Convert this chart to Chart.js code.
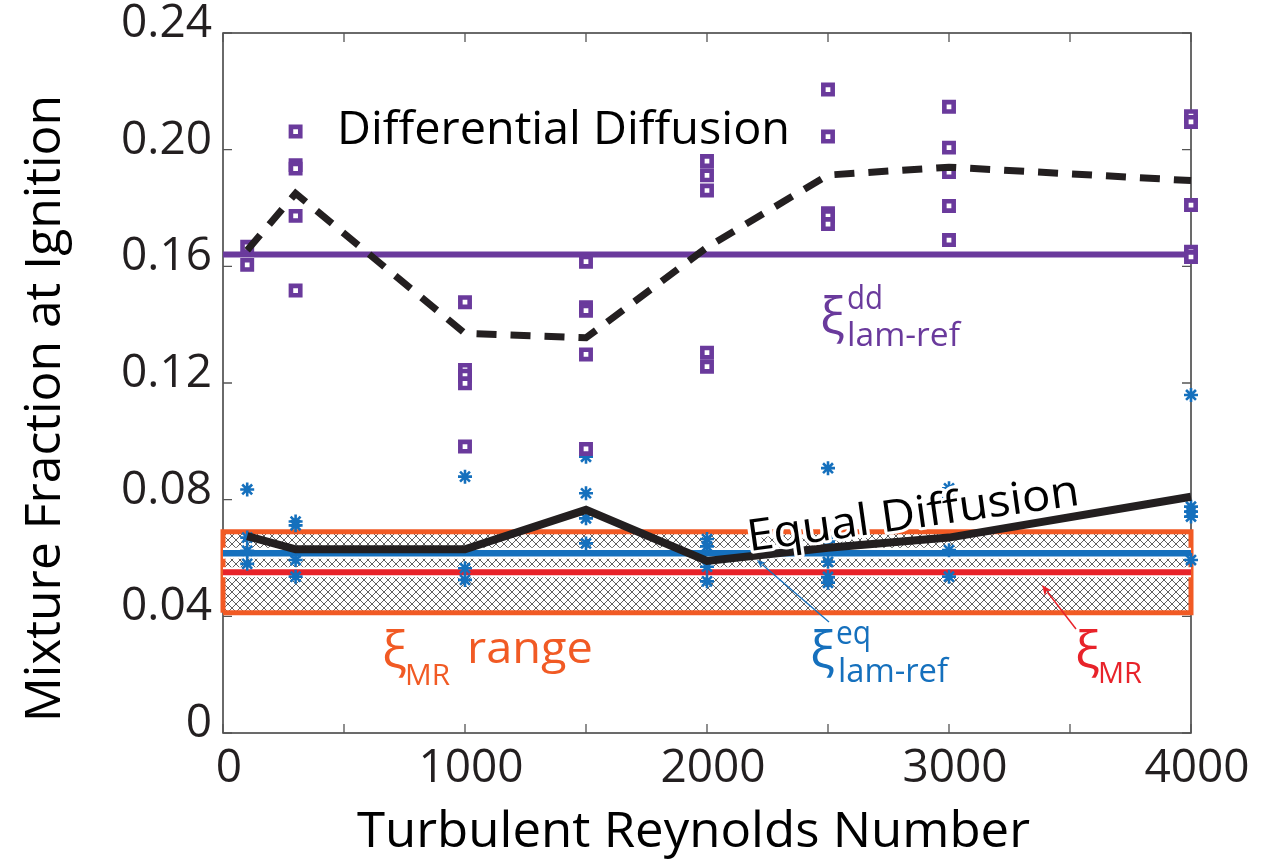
<!DOCTYPE html>
<html>
<head>
<meta charset="utf-8">
<script src="https://cdn.jsdelivr.net/npm/chart.js@4.4.1/dist/chart.umd.min.js"></script>
<style>
html,body{margin:0;padding:0;background:#fff;}
#wrap{width:1267px;height:862px;position:relative;}
</style>
</head>
<body>
<div id="wrap"><canvas id="c" width="1267" height="862"></canvas></div>
<script>
// ---------------- data ----------------
const reynolds = [100, 300, 1000, 1500, 2000, 2500, 3000, 4000];
const ddMean = [0.1655, 0.185, 0.137, 0.1355, 0.1665, 0.1913, 0.194, 0.1894];
const eqMean = [0.0675, 0.063, 0.063, 0.0765, 0.059, 0.0635, 0.067, 0.081];
const ddRuns = [
  [0.1667, 0.1605],
  [0.2062, 0.1947, 0.1935, 0.1773, 0.1517],
  [0.1477, 0.1245, 0.1225, 0.1199, 0.0982],
  [0.1616, 0.146, 0.1448, 0.1298, 0.0974],
  [0.1961, 0.1912, 0.186, 0.1304, 0.1256],
  [0.2206, 0.2045, 0.1782, 0.1772, 0.1745],
  [0.2147, 0.2007, 0.1923, 0.1807, 0.169],
  [0.2115, 0.2095, 0.181, 0.165, 0.1632]
];
const eqRuns = [
  [0.0835, 0.067, 0.0625, 0.058],
  [0.0725, 0.0712, 0.0618, 0.0593, 0.0536],
  [0.0879, 0.0565, 0.0525],
  [0.0947, 0.0822, 0.0736, 0.065],
  [0.0665, 0.064, 0.057, 0.052],
  [0.0908, 0.0656, 0.0587, 0.0535, 0.0515],
  [0.0839, 0.0806, 0.0627, 0.0536],
  [0.1159, 0.0776, 0.0759, 0.0742, 0.0593]
];
const xiLamRefDD = 0.1641;
const xiLamRefEQ = 0.0616;
const xiMR = 0.0551;
const xiMRRange = [0.0412, 0.069];
const reRange = [0, 4000];
const yTicks = [0, 0.04, 0.08, 0.12, 0.16, 0.20, 0.24];
const xTickLabels = [0, 1000, 2000, 3000, 4000];

// ---------------- helpers ----------------
const FONT = '"Open Sans", "Noto Sans", sans-serif';
const PURPLE = '#6a3a9c', BLUE = '#1570bd', RED = '#e8232a', ORANGE = '#f15a24', INK = '#231f20';

function runsToPoints(runs) {
  const pts = [];
  runs.forEach((vals, i) => vals.forEach(v => pts.push({x: reynolds[i], y: v})));
  return pts;
}
function seriesToPoints(vals) { return vals.map((v, i) => ({x: reynolds[i], y: v})); }
function hLine(v) { return [{x: reRange[0], y: v}, {x: reRange[1], y: v}]; }

function hatchPattern() {
  const s = 8;
  const c = document.createElement('canvas');
  c.width = s; c.height = s;
  const g = c.getContext('2d');
  g.strokeStyle = '#2b2b2b';
  g.lineWidth = 0.75;
  g.beginPath();
  g.moveTo(0, 0); g.lineTo(s, s);
  g.moveTo(s, 0); g.lineTo(0, s);
  g.stroke();
  return g.createPattern(c, 'repeat');
}

const boxPts = [
  {x: reRange[0], y: xiMRRange[0]}, {x: reRange[0], y: xiMRRange[1]},
  {x: reRange[1], y: xiMRRange[1]}, {x: reRange[1], y: xiMRRange[0]},
  {x: reRange[0], y: xiMRRange[0]}
];

// ---------------- plugins ----------------
const framePlugin = {
  id: 'frame',
  beforeDatasetsDraw(chart) {
    const {ctx, chartArea: a, scales} = chart;
    ctx.save();
    ctx.strokeStyle = '#3a3a3a';
    ctx.lineWidth = 1.5;
    ctx.strokeRect(a.left, a.top, a.right - a.left, a.bottom - a.top);
    ctx.strokeStyle = '#555';
    ctx.lineWidth = 1.3;
    const tl = 9;
    ctx.beginPath();
    scales.x.ticks.forEach(t => {
      const px = scales.x.getPixelForValue(t.value);
      ctx.moveTo(px, a.bottom); ctx.lineTo(px, a.bottom - tl);
      ctx.moveTo(px, a.top); ctx.lineTo(px, a.top + tl);
    });
    scales.y.ticks.forEach(t => {
      const py = scales.y.getPixelForValue(t.value);
      ctx.moveTo(a.left, py); ctx.lineTo(a.left + tl, py);
      ctx.moveTo(a.right, py); ctx.lineTo(a.right - tl, py);
    });
    ctx.stroke();
    ctx.restore();
  }
};

function fitText(ctx, text, x, y, size, width, color, align, weight) {
  ctx.save();
  ctx.font = (weight || '') + ' ' + size + 'px ' + FONT;
  const w = ctx.measureText(text).width;
  const sx = width ? width / w : 1;
  ctx.translate(x, y);
  ctx.scale(sx, 1);
  ctx.fillStyle = color;
  ctx.textAlign = align || 'left';
  ctx.textBaseline = 'alphabetic';
  ctx.fillText(text, 0, 0);
  ctx.restore();
}

function arrow(ctx, x1, y1, x2, y2, color, lw, head) {
  ctx.save();
  ctx.strokeStyle = color; ctx.fillStyle = color; ctx.lineWidth = lw;
  const ang = Math.atan2(y2 - y1, x2 - x1);
  ctx.beginPath();
  ctx.moveTo(x1, y1);
  ctx.lineTo(x2 - Math.cos(ang) * head * 0.8, y2 - Math.sin(ang) * head * 0.8);
  ctx.stroke();
  ctx.beginPath();
  ctx.moveTo(x2, y2);
  ctx.lineTo(x2 - head * Math.cos(ang - 0.4), y2 - head * Math.sin(ang - 0.4));
  ctx.lineTo(x2 - head * 0.7 * Math.cos(ang), y2 - head * 0.7 * Math.sin(ang));
  ctx.lineTo(x2 - head * Math.cos(ang + 0.4), y2 - head * Math.sin(ang + 0.4));
  ctx.closePath();
  ctx.fill();
  ctx.restore();
}

const annotPlugin = {
  id: 'annot',
  afterDatasetsDraw(chart) {
    const ctx = chart.ctx;
    fitText(ctx, 'Differential Diffusion', 337, 144, 46, 453, '#000');
    ctx.save();
    ctx.translate(915, 528);
    ctx.rotate(-8 * Math.PI / 180);
    ctx.font = '44px ' + FONT;
    const w = ctx.measureText('Equal Diffusion').width;
    ctx.scale(335 / w, 1);
    ctx.textAlign = 'center';
    ctx.lineJoin = 'round';
    ctx.strokeStyle = '#fff';
    ctx.lineWidth = 6;
    ctx.strokeText('Equal Diffusion', 0, 0);
    ctx.fillStyle = '#000';
    ctx.fillText('Equal Diffusion', 0, 0);
    ctx.restore();

    fitText(ctx, 'ξ', 820, 334, 52, 0, PURPLE);
    fitText(ctx, 'dd', 847, 309, 32, 36, PURPLE);
    fitText(ctx, 'lam-ref', 847, 346, 32, 113, PURPLE);

    fitText(ctx, 'ξ', 810, 668, 52, 0, BLUE);
    fitText(ctx, 'eq', 836, 644, 32, 35, BLUE);
    fitText(ctx, 'lam-ref', 838, 682, 32, 110, BLUE);
    arrow(ctx, 829, 622, 757, 560, BLUE, 1.3, 9);

    fitText(ctx, 'ξ', 1075, 668, 52, 0, RED);
    fitText(ctx, 'MR', 1098, 683, 30, 44, RED);
    arrow(ctx, 1076, 629, 1042, 585, RED, 1.5, 11);

    fitText(ctx, 'ξ', 382, 668, 52, 0, ORANGE);
    fitText(ctx, 'MR', 405, 685, 30, 45, ORANGE);
    fitText(ctx, 'range', 467, 663, 44, 126, ORANGE);

    fitText(ctx, 'Turbulent Reynolds Number', 357, 847, 50, 673, '#000');
    ctx.save();
    ctx.translate(60, 722);
    ctx.rotate(-Math.PI / 2);
    ctx.font = '50px ' + FONT;
    const wy = ctx.measureText('Mixture Fraction at Ignition').width;
    ctx.scale(627 / wy, 1);
    ctx.fillStyle = '#000';
    ctx.fillText('Mixture Fraction at Ignition', 0, 0);
    ctx.restore();
  }
};

// ---------------- chart ----------------
const ctx = document.getElementById('c').getContext('2d');
new Chart(ctx, {
  type: 'scatter',
  data: {
    datasets: [
      {
        type: 'line', data: seriesToPoints(eqMean), order: 1,
        borderColor: INK, borderWidth: 8, pointRadius: 0, fill: false, tension: 0, clip: false
      },
      {
        type: 'line', data: seriesToPoints(ddMean), order: 2,
        borderColor: INK, borderWidth: 7, borderDash: [20, 14], pointRadius: 0, fill: false, tension: 0, clip: false
      },
      {
        data: runsToPoints(ddRuns), order: 3,
        pointStyle: 'rect', pointRadius: 6.6, borderWidth: 4.6,
        borderColor: PURPLE, backgroundColor: '#fff', clip: false
      },
      {
        type: 'line', data: hLine(xiLamRefDD), order: 4,
        borderColor: PURPLE, borderWidth: 6, pointRadius: 0, fill: false, clip: false
      },
      {
        data: runsToPoints(eqRuns), order: 5,
        pointStyle: 'star', pointRadius: 7, borderWidth: 2.6,
        borderColor: BLUE, backgroundColor: BLUE, clip: false
      },
      {
        type: 'line', data: hLine(xiLamRefEQ), order: 6,
        borderColor: BLUE, borderWidth: 6.5, pointRadius: 0, fill: false, clip: false
      },
      {
        type: 'line', data: hLine(xiLamRefEQ), order: 7,
        borderColor: '#fff', borderWidth: 11, pointRadius: 0, fill: false, clip: false
      },
      {
        type: 'line', data: hLine(xiMR), order: 8,
        borderColor: RED, borderWidth: 6, pointRadius: 0, fill: false, clip: false
      },
      {
        type: 'line', data: hLine(xiMR), order: 9,
        borderColor: '#fff', borderWidth: 10, pointRadius: 0, fill: false, clip: false
      },
      {
        type: 'line', data: boxPts, order: 10,
        borderColor: ORANGE, borderWidth: 5, pointRadius: 0, tension: 0,
        fill: 'shape', backgroundColor: hatchPattern(), clip: false
      }
    ]
  },
  options: {
    responsive: false,
    animation: false,
    events: [],
    layout: {padding: {left: 0, right: 76, top: 33, bottom: 0}},
    plugins: {legend: {display: false}, tooltip: {enabled: false}},
    scales: {
      x: {
        type: 'linear', min: 0, max: 4000,
        afterFit(s) { s.height = 129; s.paddingLeft = 0; s.paddingRight = 0; },
        grid: {display: false, drawTicks: false},
        border: {display: false},
        ticks: {
          stepSize: 500, autoSkip: false, maxRotation: 0, padding: 8, labelOffset: 6,
          color: INK, font: {family: FONT, size: 46},
          callback: v => xTickLabels.includes(v) ? String(v) : ''
        },
        title: {display: false}
      },
      y: {
        min: 0, max: 0.24,
        afterFit(s) { s.width = 223; s.paddingTop = 0; s.paddingBottom = 0; },
        afterBuildTicks(s) { s.ticks = yTicks.map(v => ({value: v})); },
        grid: {display: false, drawTicks: false},
        border: {display: false},
        ticks: {
          padding: 11, labelOffset: -9, color: INK, font: {family: FONT, size: 46},
          callback: v => v === 0 ? '0' : v.toFixed(2)
        },
        title: {display: false}
      }
    }
  },
  plugins: [framePlugin, annotPlugin]
});
</script>
</body>
</html>
